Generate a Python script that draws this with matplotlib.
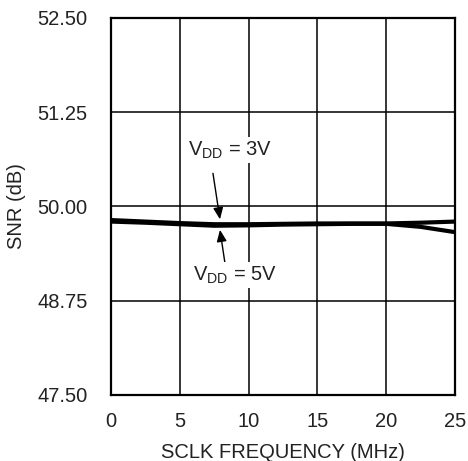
import matplotlib
matplotlib.use("Agg")
import matplotlib.pyplot as plt

plt.rcParams['font.family'] = ['Liberation Sans', 'DejaVu Sans']
plt.rcParams['mathtext.fontset'] = 'custom'
plt.rcParams['mathtext.rm'] = 'Liberation Sans'
plt.rcParams['mathtext.it'] = 'Liberation Sans'

freq_mhz = [0, 2.5, 5, 7.5, 10, 12.5, 15, 17.5, 20, 22.5, 25]
snr_3v = [49.82, 49.80, 49.78, 49.765, 49.765, 49.77, 49.775, 49.775, 49.775, 49.785, 49.80]
snr_5v = [49.80, 49.785, 49.765, 49.745, 49.75, 49.76, 49.765, 49.77, 49.77, 49.73, 49.66]

x_ticks = [0, 5, 10, 15, 20, 25]
y_ticks = [47.50, 48.75, 50.00, 51.25, 52.50]
y_tick_labels = ["47.50", "48.75", "50.00", "51.25", "52.50"]

fig = plt.figure(figsize=(4.68, 4.61), dpi=100)
ax = fig.add_axes([111/468, 1-395/461, 344/468, 377/461])

ax.plot(freq_mhz, snr_3v, color='black', lw=3.0, solid_capstyle='butt')
ax.plot(freq_mhz, snr_5v, color='black', lw=3.0, solid_capstyle='butt')

ax.set_xlim(0, 25)
ax.set_ylim(47.5, 52.5)
ax.set_xticks(x_ticks)
ax.set_yticks(y_ticks)
ax.set_yticklabels(y_tick_labels)
ax.grid(True, color='black', lw=1.1)
ax.tick_params(length=0, labelsize=14.5, colors='#222222')
ax.tick_params(axis='y', pad=17)
ax.tick_params(axis='x', pad=12)
for s in ax.spines.values():
    s.set_linewidth(1.6)

ax.set_xlabel('SCLK FREQUENCY (MHz)', fontsize=14.5, labelpad=9, color='#222222')
ax.set_ylabel('SNR (dB)', fontsize=14.5, labelpad=8, color='#222222')

arrow = dict(arrowstyle='-|>,head_length=0.7,head_width=0.3', color='black', lw=1.0,
             shrinkA=0, shrinkB=0)
box = dict(facecolor='white', edgecolor='none', pad=1.5)
ax.text(8.65, 50.75, r'V$_\mathrm{DD}$ = 3V', fontsize=14.5, ha='center', va='center',
        color='#222222', bbox=box, zorder=5)
ax.annotate('', xy=(7.92, 49.83), xytext=(7.41, 50.44), arrowprops=arrow)
ax.text(9.0, 49.09, r'V$_\mathrm{DD}$ = 5V', fontsize=14.5, ha='center', va='center',
        color='#222222', bbox=box, zorder=5)
ax.annotate('', xy=(7.92, 49.69), xytext=(8.28, 49.25), arrowprops=arrow)

fig.savefig('out.png', dpi=100)
